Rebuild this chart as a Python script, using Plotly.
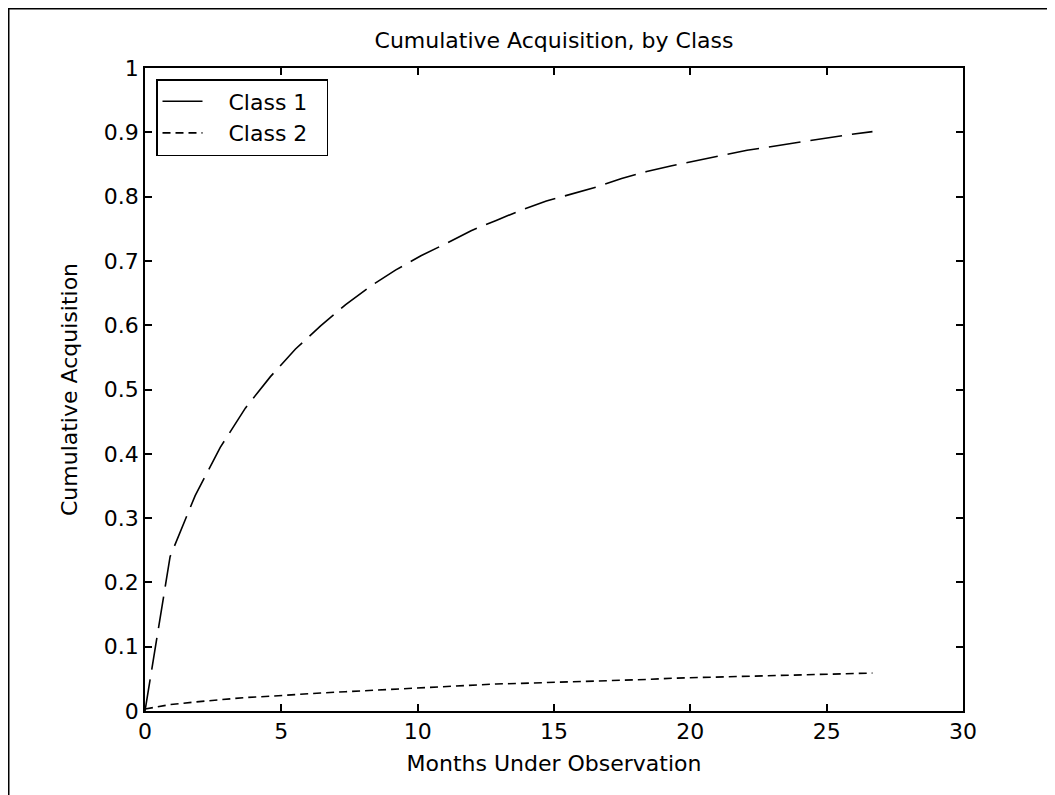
import plotly.graph_objects as go

# Data
months = [0, 0.92, 1.84, 2.76, 3.68, 4.6, 5.52, 6.44, 7.36, 8.28, 9.2, 10.12,
          11.04, 11.96, 12.88, 13.8, 14.72, 15.64, 16.56, 17.48, 18.4, 19.32,
          20.24, 21.16, 22.08, 23.0, 23.92, 24.84, 25.76, 26.68]
class1 = [0, 0.24, 0.335, 0.41, 0.471, 0.52, 0.563, 0.599, 0.632, 0.661, 0.686,
          0.708, 0.727, 0.747, 0.763, 0.779, 0.793, 0.804, 0.815, 0.828, 0.839,
          0.848, 0.856, 0.865, 0.872, 0.878, 0.884, 0.891, 0.896, 0.901]
class2 = [0.003, 0.010, 0.014, 0.018, 0.021, 0.023, 0.026, 0.028, 0.030, 0.032,
          0.034, 0.036, 0.039, 0.041, 0.042, 0.043, 0.044, 0.045, 0.047, 0.048,
          0.049, 0.051, 0.052, 0.054, 0.055, 0.056, 0.057, 0.058, 0.0585, 0.059]
series_names = ["Class 1", "Class 2"]
x_ticks = [0, 5, 10, 15, 20, 25, 30]
y_ticks = [0, 0.1, 0.2, 0.3, 0.4, 0.5, 0.6, 0.7, 0.8, 0.9, 1]

FONT = "DejaVu Sans, Verdana, sans-serif"
SIZE = 22
NB = "\u00a0"

W, H = 1047, 787
L, R, T, B = 137, 92, 60, 84
PW, PH = W - L - R, H - T - B


def px_x(X):
    return (X - L) / PW


def px_y(Y):
    return (H - B - Y) / PH


fig = go.Figure()
fig.add_trace(go.Scatter(x=months, y=class1, mode="lines", showlegend=False,
                         line=dict(color="black", width=1.6, dash="32px,10px")))
fig.add_trace(go.Scatter(x=months, y=class2, mode="lines",
                         name=NB * 3 + series_names[1] + NB * 2,
                         legendrank=2,
                         line=dict(color="black", width=1.6, dash="8px,5px")))
fig.add_trace(go.Scatter(x=[None], y=[None], mode="lines",
                         name=NB * 3 + series_names[0] + NB * 2,
                         legendrank=1,
                         line=dict(color="black", width=1.6)))

axis_common = dict(showline=True, linecolor="black", linewidth=1.5, mirror="ticks",
                   ticks="inside", ticklen=7, tickwidth=1.5, tickcolor="black",
                   showgrid=False, zeroline=False,
                   tickfont=dict(family=FONT, size=SIZE, color="black"))

fig.update_layout(
    width=W, height=H,
    margin=dict(l=L, r=R, t=T, b=B),
    paper_bgcolor="white", plot_bgcolor="white",
    title=dict(text="Cumulative Acquisition, by Class", x=0.5, xref="paper",
               xanchor="center", y=1 - 32 / H, yanchor="middle",
               font=dict(family=FONT, size=SIZE, color="black")),
    xaxis=dict(range=[0, 30], tickvals=x_ticks,
               title=dict(text="Months Under Observation", standoff=12,
                          font=dict(family=FONT, size=SIZE, color="black")),
               **axis_common),
    yaxis=dict(range=[0, 1], tickvals=y_ticks,
               title=dict(text="Cumulative Acquisition", standoff=20,
                          font=dict(family=FONT, size=SIZE, color="black")),
               **axis_common),
    legend=dict(x=px_x(148), y=px_y(71), xanchor="left", yanchor="top",
                bordercolor="black", borderwidth=1.5, bgcolor="white",
                font=dict(family=FONT, size=SIZE, color="black"),
                itemwidth=40),
    shapes=[
        dict(type="line", xref="paper", yref="paper",
             x0=px_x(0), x1=px_x(W + 5), y0=px_y(0), y1=px_y(0),
             line=dict(color="black", width=3)),
        dict(type="line", xref="paper", yref="paper",
             x0=px_x(0), x1=px_x(0), y0=px_y(0), y1=px_y(H + 5),
             line=dict(color="black", width=3)),
    ],
)

fig.write_html("out.html")
